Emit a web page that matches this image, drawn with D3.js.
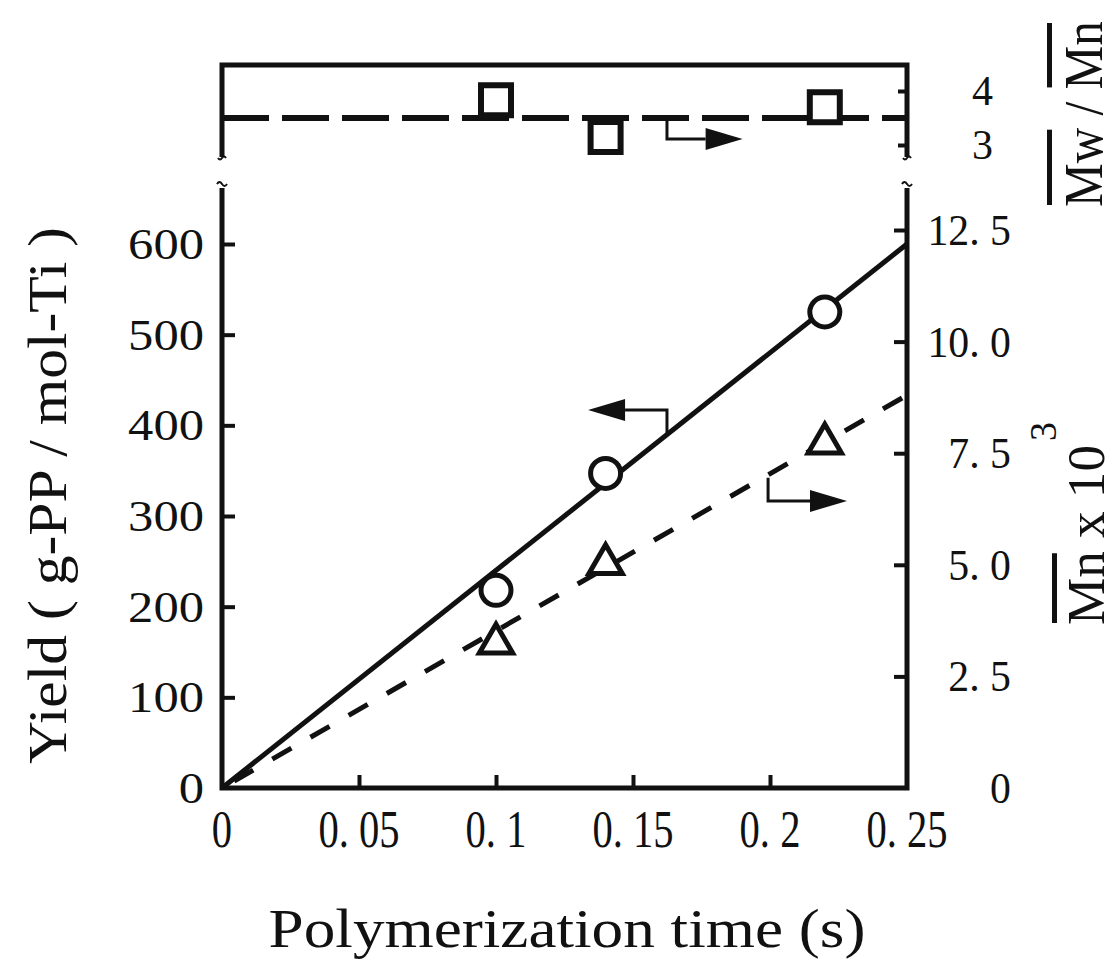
<!DOCTYPE html>
<html lang="en">
<head>
  <meta charset="UTF-8">
  <title>Polymerization time</title>
  <style>
    body { margin: 0; background: #fff; }
    text { font-family: "Liberation Serif", "DejaVu Serif", serif; fill: #111; }
  </style>
</head>
<body>
  <script src="https://d3js.org/d3.v7.min.js"></script>
  <script>
    // Data
    let times = [0.1, 0.14, 0.22];
    let yieldVals = [218, 347, 525];
    let mnVals = [3.24, 5.02, 7.72];
    let mwdVals = [3.83, 3.15, 3.70];

    // fitted lines (start, end)
    let fitTimes = [0, 0.25];
    let yieldFit = [0, 600];
    let mnFit = [0, 8.8];
    let mwdFit = [3.5, 3.5];

    // ticks
    let xTicks = [0, 0.05, 0.1, 0.15, 0.2, 0.25];
    let xTickLabels = ["0", "0. 05", "0. 1", "0. 15", "0. 2", "0. 25"];
    let yTicks = [0, 100, 200, 300, 400, 500, 600];
    let mnTicks = [0, 2.5, 5, 7.5, 10, 12.5];
    let mnTickLabels = ["0", "2. 5", "5. 0", "7. 5", "10. 0", "12. 5"];
    let mwdTicks = [3, 4];

    // Define SVG area dimensions
    let svgWidth = 1118;
    let svgHeight = 959;

    let svg = d3.select("body")
      .append("svg")
      .attr("width", svgWidth)
      .attr("height", svgHeight);

    // scales
    let x = d3.scaleLinear().domain([0, 0.25]).range([222, 907]);
    let yLeft = d3.scaleLinear().domain([0, 600]).range([788, 244]);
    let yRight = d3.scaleLinear().domain([0, 12.5]).range([788, 230]);
    let yTop = d3.scaleLinear().domain([3, 4]).range([145, 91]);

    let mainTop = 188;
    let topPanel = { top: 65, bottom: 157 };

    let ink = "#111";

    // frames
    svg.append("path")
      .attr("d", `M${x(0)},${mainTop} V${yLeft(0)} H${x(0.25)} V${mainTop}`)
      .attr("fill", "none").attr("stroke", ink).attr("stroke-width", 5)
      .attr("stroke-linejoin", "miter");

    svg.append("path")
      .attr("d", `M${x(0)},${topPanel.bottom} V${topPanel.top} H${x(0.25)} V${topPanel.bottom}`)
      .attr("fill", "none").attr("stroke", ink).attr("stroke-width", 5);

    // axis break marks
    [x(0), x(0.25)].forEach(function(px) {
      svg.append("path")
        .attr("d", `M${px - 5},${mainTop - 4} q2.5,-4 5,0 t5,0`)
        .attr("fill", "none").attr("stroke", ink).attr("stroke-width", 2);
      svg.append("path")
        .attr("d", `M${px - 4},${topPanel.bottom + 1} q2,3 4,0 t4,0`)
        .attr("fill", "none").attr("stroke", ink).attr("stroke-width", 2);
    });

    // ticks (inward)
    function styleAxis(g) {
      g.select(".domain").remove();
      g.selectAll(".tick line").attr("stroke", ink).attr("stroke-width", 4);
      g.selectAll(".tick text").remove();
    }

    svg.append("g")
      .attr("transform", `translate(0, ${yLeft(0)})`)
      .call(d3.axisBottom(x).tickValues(xTicks.slice(1, -1)).tickSize(-13).tickFormat(""))
      .call(styleAxis);

    svg.append("g")
      .attr("transform", `translate(${x(0)}, 0)`)
      .call(d3.axisLeft(yLeft).tickValues(yTicks.slice(1)).tickSize(-13).tickFormat(""))
      .call(styleAxis);

    svg.append("g")
      .attr("transform", `translate(${x(0.25)}, 0)`)
      .call(d3.axisRight(yRight).tickValues(mnTicks.slice(1)).tickSize(-13).tickFormat(""))
      .call(styleAxis);

    svg.append("g")
      .attr("transform", `translate(${x(0.25)}, 0)`)
      .call(d3.axisRight(yTop).tickValues(mwdTicks).tickSize(-9).tickFormat(""))
      .call(styleAxis);

    // tick labels
    svg.append("g").selectAll("text")
      .data(xTicks)
      .enter()
      .append("text")
      .attr("transform", d => `translate(${x(d)}, 847) scale(0.78, 1)`)
      .attr("text-anchor", "middle")
      .style("font-size", "52px")
      .text((d, i) => xTickLabels[i]);

    svg.append("g").selectAll("text")
      .data(yTicks)
      .enter()
      .append("text")
      .attr("transform", d => `translate(204, ${yLeft(d) + 15}) scale(1.15, 1)`)
      .attr("text-anchor", "end")
      .style("font-size", "44px")
      .text(d => d);

    svg.append("g").selectAll("text")
      .data(mnTicks)
      .enter()
      .append("text")
      .attr("transform", d => `translate(1011, ${yRight(d) + 15}) scale(0.95, 1)`)
      .attr("text-anchor", "end")
      .style("font-size", "44px")
      .text((d, i) => mnTickLabels[i]);

    svg.append("g").selectAll("text")
      .data(mwdTicks)
      .enter()
      .append("text")
      .attr("transform", d => `translate(993, ${yTop(d) + 14})`)
      .attr("text-anchor", "end")
      .style("font-size", "42px")
      .text(d => d);

    // fitted lines
    let lineGen = d3.line().x(d => x(d[0])).y(d => d[1]);

    svg.append("path")
      .datum(fitTimes.map((t, i) => [t, yLeft(yieldFit[i])]))
      .attr("d", lineGen)
      .attr("fill", "none").attr("stroke", ink).attr("stroke-width", 5);

    svg.append("path")
      .datum(fitTimes.map((t, i) => [t, yRight(mnFit[i])]))
      .attr("d", lineGen)
      .attr("fill", "none").attr("stroke", ink).attr("stroke-width", 5)
      .attr("stroke-dasharray", "22,22").attr("stroke-dashoffset", -14);

    svg.append("path")
      .datum(fitTimes.map((t, i) => [t, yTop(mwdFit[i])]))
      .attr("d", lineGen)
      .attr("fill", "none").attr("stroke", ink).attr("stroke-width", 6)
      .attr("stroke-dasharray", "47,13");

    // arrows, anchored in data units
    function arrow(points, dir) {
      let p = points;
      let last = p[p.length - 1];
      let headLen = 37, half = 11;
      let baseX = last[0] - dir * headLen;
      let linePts = p.slice(0, -1).concat([[baseX, last[1]]]);
      svg.append("path")
        .attr("d", d3.line()(linePts))
        .attr("fill", "none").attr("stroke", ink).attr("stroke-width", 3);
      svg.append("path")
        .attr("d", `M${last[0]},${last[1]} L${baseX},${last[1] - half} L${baseX},${last[1] + half} Z`)
        .attr("fill", ink);
    }

    arrow([[x(0.1624), yLeft(390)], [x(0.1624), yLeft(417)], [x(0.1336), yLeft(417)]], -1);
    arrow([[x(0.1993), yRight(6.95)], [x(0.1993), yRight(6.43)], [x(0.2281), yRight(6.43)]], 1);
    arrow([[x(0.1624), yTop(3.5)], [x(0.1624), yTop(3.11)], [x(0.190), yTop(3.11)]], 1);

    // markers
    svg.append("g").selectAll("circle")
      .data(times)
      .enter()
      .append("circle")
      .attr("cx", d => x(d))
      .attr("cy", (d, i) => yLeft(yieldVals[i]))
      .attr("r", 15)
      .attr("fill", "#fff").attr("stroke", ink).attr("stroke-width", 5);

    svg.append("g").selectAll("path")
      .data(times)
      .enter()
      .append("path")
      .attr("transform", (d, i) => `translate(${x(d)}, ${yRight(mnVals[i])})`)
      .attr("d", d3.symbol().type(d3.symbolTriangle).size(480))
      .attr("fill", "#fff").attr("stroke", ink).attr("stroke-width", 5);

    svg.append("g").selectAll("path")
      .data(times)
      .enter()
      .append("path")
      .attr("transform", (d, i) => `translate(${x(d)}, ${yTop(mwdVals[i])})`)
      .attr("d", d3.symbol().type(d3.symbolSquare).size(900))
      .attr("fill", "#fff").attr("stroke", ink).attr("stroke-width", 6);

    // axis titles, stretched to the width they take in the figure
    function stretched(g, str, size, target, anchor) {
      let t = g.append("text")
        .attr("text-anchor", anchor)
        .style("font-size", size + "px")
        .text(str);
      let len = t.node().getComputedTextLength();
      let s = target / len;
      t.attr("transform", `scale(${s}, 1)`);
      return { node: t.node(), s: s };
    }

    function overline(g, lab, from, n, y) {
      let start = lab.node.getSubStringLength(0, from) * lab.s;
      let w = lab.node.getSubStringLength(from, n) * lab.s;
      g.append("rect")
        .attr("x", start + 2).attr("y", y)
        .attr("width", w - 4).attr("height", 5)
        .attr("fill", ink);
    }

    let xTitle = svg.append("g").attr("transform", "translate(567, 947)");
    stretched(xTitle, "Polymerization time (s)", 54, 597, "middle");

    let yTitle = svg.append("g").attr("transform", "translate(66, 764) rotate(-90)");
    stretched(yTitle, "Yield ( g-PP / mol-Ti )", 54, 537, "start");

    let mnTitle = svg.append("g").attr("transform", "translate(1104, 625) rotate(-90)");
    let mnLab = stretched(mnTitle, "Mn x 10", 52, 180, "start");
    overline(mnTitle, mnLab, 0, 2, -52);
    mnTitle.append("text")
      .attr("x", 184).attr("y", -48)
      .style("font-size", "38px")
      .text("3");

    let mwTitle = svg.append("g").attr("transform", "translate(1102, 207) rotate(-90)");
    let mwLab = stretched(mwTitle, "Mw / Mn", 54, 186, "start");
    overline(mwTitle, mwLab, 0, 2, -55);
    overline(mwTitle, mwLab, 5, 2, -55);
  </script>
</body>
</html>
